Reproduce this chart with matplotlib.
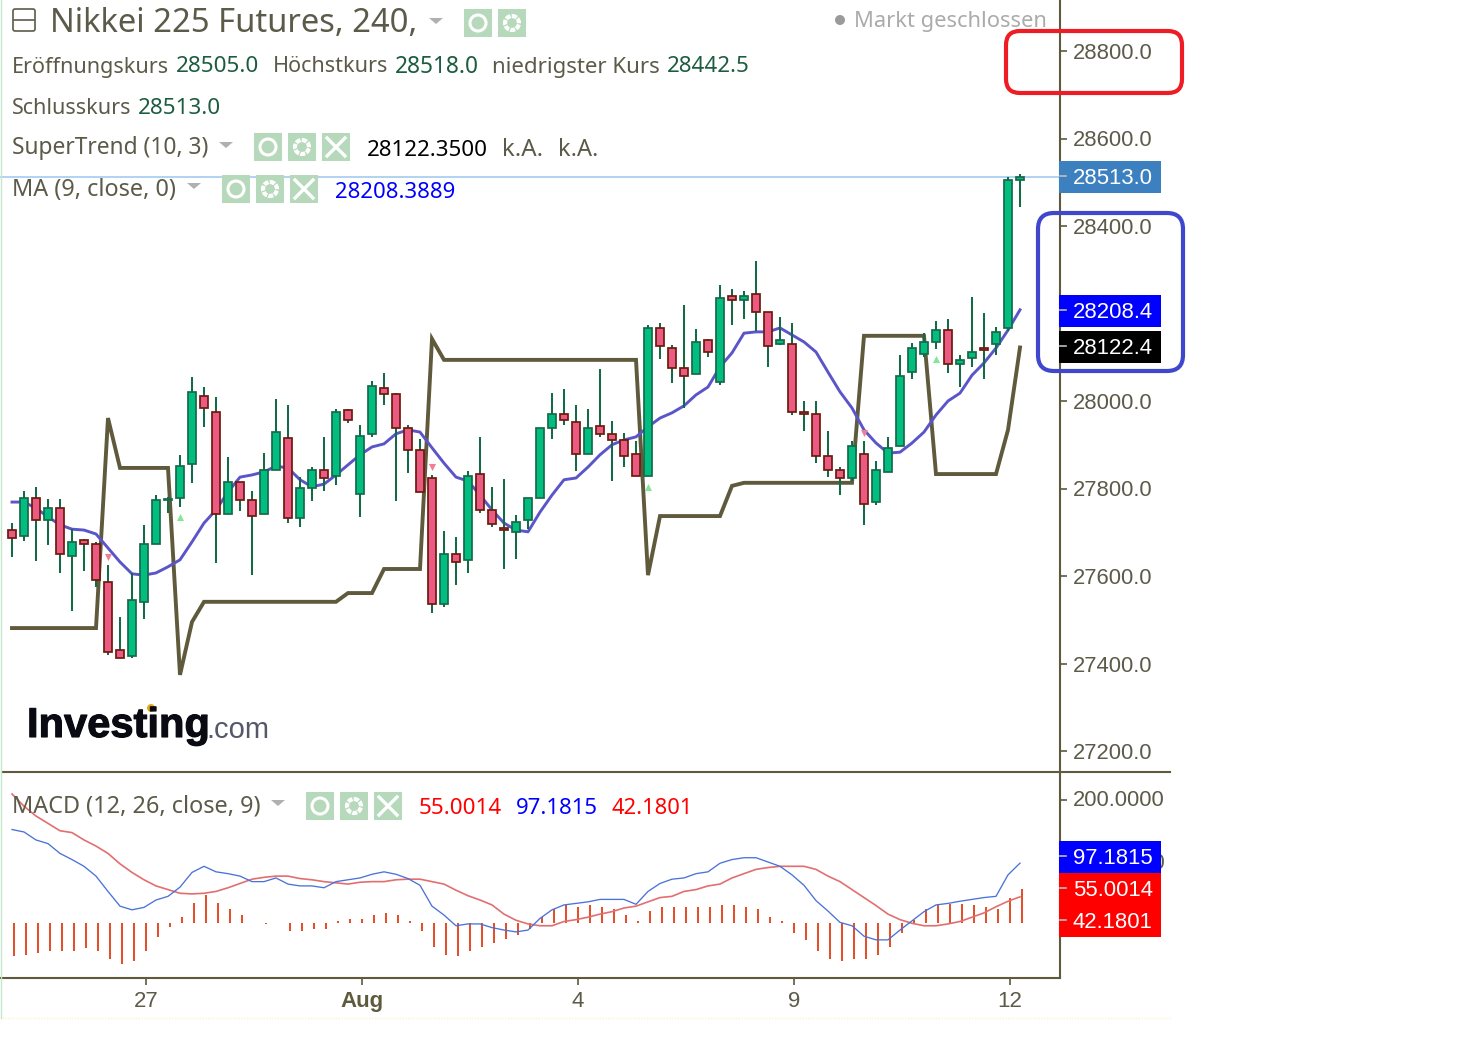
import matplotlib
matplotlib.use("Agg")
import matplotlib.pyplot as plt
import matplotlib.patheffects as pe
from matplotlib.patches import Rectangle, FancyBboxPatch, Circle, Polygon
import numpy as np

W, H = 1458, 1039

opens = [27705,27691,27778,27728,27755,27646,27682,27673,27586,27431,27417,27541,27673,27774,27778,27856,28011,27975,27742,27815,
         27774,27742,27842,27915,27733,27801,27842,27829,27979,27788,27925,28030,28016,27938,27888,27824,27536,27650,27637,27833,
         27751,27710,27701,27728,27778,27938,27970,27952,27879,27943,27925,27911,27879,27829,28167,28121,28075,28062,28139,28044,
         28240,28231,28245,28203,28130,28130,27975,27970,27874,27842,27824,27879,27769,27838,27897,28066,28107,28135,28162,28085,
         28098,28121,28130,28167,28505]
closes = [27687,27778,27728,27755,27650,27678,27673,27591,27426,27413,27545,27673,27774,27776,27851,28021,27984,27742,27815,27774,
          27737,27842,27929,27733,27801,27842,27824,27975,27957,27920,28034,28016,27938,27888,27792,27536,27650,27632,27829,27751,
          27719,27705,27723,27778,27938,27970,27957,27879,27938,27925,27911,27874,27829,28167,28126,28075,28057,28135,28112,28236,
          28231,28240,28203,28126,28139,27975,27970,27874,27842,27824,27897,27765,27842,27893,28057,28121,28135,28162,28085,28094,
          28112,28117,28158,28505,28513]
highs = [27721,27794,27804,27776,27776,27707,27685,27678,27625,27506,27607,27717,27785,27781,27877,28055,28032,28009,27872,27815,
         27794,27881,28005,27991,27826,27849,27918,27982,27982,27945,28046,28064,28018,27945,27913,27831,27703,27689,27840,27918,
         27804,27822,27739,27778,27938,28018,28028,27991,27982,28073,27954,27927,27909,28174,28178,28128,28220,28165,28142,28265,
         28256,28251,28320,28203,28192,28178,28000,28000,27931,27849,27909,27909,27863,27918,28105,28133,28156,28183,28187,28105,
         28238,28201,28169,28512,28518]
lows = [27644,27680,27634,27671,27607,27520,27611,27575,27420,27413,27413,27502,27673,27744,27758,27813,27941,27630,27742,27749,
        27602,27742,27842,27721,27712,27772,27794,27808,27950,27735,27918,27991,27772,27835,27792,27515,27529,27579,27607,27744,
        27712,27616,27639,27707,27778,27913,27945,27840,27879,27918,27817,27849,27829,27829,28096,28041,27984,28062,28101,28037,
        28174,28187,28160,28078,28128,27968,27931,27858,27826,27785,27817,27717,27762,27838,27897,28050,28101,28119,28064,28032,
        28078,28050,28105,28160,28442.5]
supertrend = [27481,27481,27481,27481,27481,27481,27481,27481,27961,27847,27847,27847,27847,27847,27374,27495,27541,27541,27541,27541,
              27541,27541,27541,27541,27541,27541,27541,27541,27561,27561,27561,27616,27616,27616,27616,28142,28094,28094,28094,28094,
              28094,28094,28094,28094,28094,28094,28094,28094,28094,28094,28094,28094,28094,27602,27737,27737,27737,27737,27737,27737,
              27806,27813,27813,27813,27813,27813,27813,27813,27813,27813,27813,28149,28149,28149,28149,28149,28149,27833,27833,27833,
              27833,27833,27833,27934,28122.35]
ma9 = [27769,27769,27755,27735,27717,27707,27705,27696,27664,27632,27605,27602,27607,27621,27637,27678,27721,27751,27792,27826,
       27831,27838,27851,27847,27820,27804,27810,27831,27854,27877,27895,27902,27925,27934,27929,27893,27858,27826,27817,27785,
       27751,27721,27705,27701,27746,27785,27820,27824,27849,27877,27900,27911,27918,27941,27961,27973,27989,28014,28032,28078,
       28110,28155,28158,28158,28167,28151,28135,28112,28066,28021,27984,27934,27904,27881,27883,27904,27929,27968,28000,28018,
       28059,28087,28121,28162,28208.3889]
hist = [-55,-52,-49,-46,-46,-46,-42,-46,-59,-68,-62,-46,-23,-6.5,9,32,45,32,22,13,
        0,-2,0,-13,-13,-10,-10,3,6,6,13,16,13,3,-13,-39,-52,-55,-46,-39,
        -33,-26,-20,-10,9,22,29,26,29,26,22,13,3,19,26,26,26,26,26,29,
        29,26,22,9,3,-16,-29,-46,-59,-62,-59,-59,-52,-39,-16,4,22,31,31,31,
        29,26,22,41,55.0014]
macd = [152,148,135,129,113,103,92,76,51,27,21,25,37,43,58,82,92,83,80,76,
        67,67,73,63,60,60,57,67,70,73,79,83,79,72,61,27,12.5,-5,-2,-2,
        -8,-12,-15,-12,7,21,29,31.5,34,38,38,38,30,51,64,71,73,80,83,97,
        103,106,106,99,92,78,61,36,19,0.5,-5,-22,-28,-28,-12,3,18,29,31.5,35,
        38,41,43,78,97.1815]
signal = [210,190,174,162,150,147,135,125,113,96,82,70,60,54,48,47,48,51,57,64,
          71,74,76,76,72,70,67,65,63,66,67,67,70,71,71,67,63,53,44,37,
          29,14,4,-2,-5,-5,2,5,9,14,18,24,27,34,41,43,51,54,60,63,
          73,80,87,90,92,92,92,87,76,67,54,41,28,14,5,-1,-5,-5,-2,2,
          9,16,26,35,42.1801]
buy_idx = [14, 53, 77]
buy_val = [27735, 27804, 28096]
sell_idx = [8, 35, 71]
sell_val = [27644, 27849, 27927]
price_ticks = [27200, 27400, 27600, 27800, 28000, 28400, 28600, 28800]
macd_ticks = [100, 200]
date_idx = [11, 29, 47, 65, 83]
date_labels = ["27", "Aug", "4", "9", "12"]

AXC = "#5f5a3c"; TXT = "#5c5a48"; VAL = "#1d5c40"
plt.rcParams["font.family"] = ["Noto Sans", "DejaVu Sans"]
fig = plt.figure(figsize=(W/100, H/100), dpi=100, facecolor="white")
def box(x0, y0, x1, y1):
    return [x0/W, 1-y1/H, (x1-x0)/W, (y1-y0)/H]

ax1 = fig.add_axes(box(0, 0, 1060, 771))
ax2 = fig.add_axes(box(0, 772, 1060, 978))
ov = fig.add_axes([0, 0, 1, 1], zorder=10)
ov.set_xlim(0, W); ov.set_ylim(H, 0); ov.axis("off"); ov.patch.set_alpha(0)

xs = np.arange(len(opens))
xlim = (-1, (1060-12)/12)
ax1.set_xlim(*xlim)
ax1.set_ylim(28800-(771-51)/0.4375, 28800+51/0.4375)

ax1.plot(xs, supertrend, color="#5f5a3c", lw=2.8, solid_joinstyle="miter", zorder=2)
ax1.plot(xs, ma9, color="#5a55c8", lw=2.1, zorder=2.2)
ax1.axhline(closes[-1], color="#9cc6f0", lw=1.1, zorder=1)
ax1.scatter(buy_idx, buy_val, marker="^", s=26, color="#86e596", zorder=3, linewidths=0)
ax1.scatter(sell_idx, sell_val, marker="v", s=26, color="#ee7f95", zorder=3, linewidths=0)
ax1.vlines(xs, lows, highs, color="#136a47", lw=1.45, zorder=3)
up = np.array(closes) >= np.array(opens)
for x, o, c, u in zip(xs, opens, closes, up):
    ax1.bar(x, abs(c-o), bottom=min(o, c), width=8.8/12,
            color="#00bd80" if u else "#ea5a83",
            edgecolor="#17694a" if u else "#6d1a0c", linewidth=1.25, zorder=4)
ax1.set_yticks(price_ticks)
ax1.set_yticklabels([f"{t:.1f}" for t in price_ticks])
ax1.set_xticks([])
ax1.yaxis.tick_right()
ax1.tick_params(axis="y", length=5, width=1.2, color=AXC, pad=4.5, labelcolor=TXT, labelsize=15.8)
for lab in ax1.get_yticklabels():
    lab.set_family("Liberation Sans")
for s in ["left", "top", "bottom"]:
    ax1.spines[s].set_visible(False)
ax1.spines["right"].set_color(AXC); ax1.spines["right"].set_linewidth(1.5)

ax2.set_xlim(*xlim)
ax2.set_ylim((922.7-978)/0.613, (922.7-772)/0.613)
ax2.vlines(xs+1/6, 0, hist, color="#e2502c", lw=1.45, zorder=2)
ax2.plot(xs, signal, color="#e26f70", lw=1.2, zorder=3)
ax2.plot(xs, macd, color="#4a72d8", lw=0.95, zorder=3)
ax2.set_yticks(macd_ticks)
ax2.set_yticklabels([f"{t:.4f}" for t in macd_ticks])
ax2.yaxis.tick_right()
ax2.set_xticks(np.array(date_idx)+1/6)
ax2.set_xticklabels(date_labels)
ax2.tick_params(axis="y", length=5, width=1.2, color=AXC, pad=4.5, labelcolor=TXT, labelsize=15.8)
ax2.tick_params(axis="x", length=5, width=1.2, color=AXC, pad=4.5, labelcolor=TXT, labelsize=16)
for lab in ax2.get_yticklabels() + ax2.get_xticklabels():
    lab.set_family("Liberation Sans")
    lab.set_y(lab.get_position()[1])
ax2.get_yticklabels()[1].set_va("center")
ax2.get_xticklabels()[1].set_fontweight("bold")
ax2.get_xticklabels()[1].set_color(AXC)
ax2.spines["left"].set_visible(False)
ax2.spines["top"].set_visible(False)
for s in ["right", "bottom"]:
    ax2.spines[s].set_color(AXC); ax2.spines[s].set_linewidth(1.5)

# chrome
ov.plot([2, 1170], [772, 772], color=AXC, lw=1.5)
ov.plot([1, 1], [0, 1018], color="#c5e8cc", lw=1.0)
ov.plot([2, 1170], [1018, 1018], color="#fdf0cf", lw=1.0, ls=(0, (1, 1)))

def tag(y0, y1, col, s, tick_y):
    ov.add_patch(Rectangle((1059, y0), 102, y1-y0, color=col, lw=0, zorder=3))
    ov.plot([1060, 1066], [tick_y, tick_y], color="#bdbdbd", lw=1.2, zorder=4)
    ov.text(1073, (y0+y1)/2+1, s, color="white", fontsize=15.9, family="Liberation Sans",
            va="center", ha="left", zorder=5)
tag(161, 193, "#3c80c0", f"{closes[-1]:.1f}", 176)
tag(295, 327, "#0000ff", f"{ma9[-1]:.1f}", 310)
tag(331, 363, "#000000", f"{supertrend[-1]+0.001:.1f}", 346)
tag(841, 873, "#0000ff", f"{macd[-1]:.4f}", 856)
tag(873, 905, "#ff0000", f"{hist[-1]:.4f}", 888)
tag(905, 937, "#ff0000", f"{signal[-1]:.4f}", 920)

def rbox(x0, y0, x1, y1, col, lw, r):
    ov.add_patch(FancyBboxPatch((x0+r, y0+r), x1-x0-2*r, y1-y0-2*r,
                 boxstyle=f"round,pad={r},rounding_size={r}", fc="none", ec=col, lw=lw, zorder=6))
rbox(1006, 31, 1182, 93, "#ee1c25", 3.0, 14)
rbox(1038, 213, 1183, 371, "#3f48cc", 3.0, 16)

renderer = fig.canvas.get_renderer()
def t(x0, x1, y, s, c=TXT, fs=16.2):
    txt = ov.text(x0, y, s, color=c, fontsize=fs, va="center", ha="left")
    txt.set_fontsize(fs*(x1-x0)/txt.get_window_extent(renderer).width)
t(50, 418, 23, "Nikkei 225 Futures, 240,", fs=23.5)
t(12, 168, 67, "Eröffnungskurs"); t(176, 259, 67, f"{opens[-1]:.1f}", VAL)
t(273, 388, 67, "Höchstkurs"); t(395, 479, 67, f"{highs[-1]:.1f}", VAL)
t(492, 660, 67, "niedrigster Kurs"); t(667, 750, 67, f"{lows[-1]:.1f}", VAL)
t(12, 131, 108, "Schlusskurs"); t(138, 221, 108, f"{closes[-1]:.1f}", VAL)
t(12, 209, 148, "SuperTrend (10, 3)")
t(367, 488, 150, f"{supertrend[-1]:.4f}", "#000000"); t(502, 543, 150, "k.A."); t(558, 598, 150, "k.A.")
t(12, 176, 190, "MA (9, close, 0)"); t(335, 455, 192, f"{ma9[-1]:.4f}", "#0000ff")
t(12, 261, 807, "MACD (12, 26, close, 9)")
t(419, 502, 809, f"{hist[-1]:.4f}", "#ff0000")
t(516, 598, 809, f"{macd[-1]:.4f}", "#0000ff")
t(612, 693, 809, f"{signal[-1]:.4f}", "#ff0000")
t(854, 1047, 22, "Markt geschlossen", "#ababab")
ov.add_patch(Circle((840, 20), 5, color="#9a9a9a", lw=0))
ov.add_patch(FancyBboxPatch((13, 9), 22, 22, boxstyle="round,pad=0,rounding_size=2", fc="none", ec=TXT, lw=1.2))
ov.plot([14, 34], [20, 20], color=TXT, lw=1.2)

for cx, cy in [(436, 20), (226, 144), (194, 185), (278, 802)]:
    ov.add_patch(Polygon([(cx-7, cy-2), (cx+7, cy-2), (cx, cy+4)], color="#b0b0b0", lw=0))

def icons(x, y, kinds):
    for i, k in enumerate(kinds):
        x0 = x+34*i
        ov.add_patch(Rectangle((x0, y), 28, 28, color="#b7d9bb", lw=0))
        cx, cy = x0+14, y+14
        if k == "eye":
            ov.add_patch(Circle((cx, cy), 8, fc="#b7d9bb", ec="white", lw=2.2))
            ov.add_patch(Circle((cx, cy), 2.5, color="#b7d9bb", lw=0))
        elif k == "gear":
            ov.add_patch(Circle((cx, cy), 7, fc="#b7d9bb", ec="white", lw=3, ls=(0, (1.2, 0.3))))
        else:
            ov.plot([cx-9, cx+9], [cy-9, cy+9], color="white", lw=2.4)
            ov.plot([cx-9, cx+9], [cy+9, cy-9], color="white", lw=2.4)
icons(464, 9, ["eye", "gear"])
icons(254, 133, ["eye", "gear", "x"])
icons(222, 175, ["eye", "gear", "x"])
icons(306, 792, ["eye", "gear", "x"])

logo = ov.text(27, 726, "Investing", color="#0a0a12", fontsize=30, fontweight="bold",
               family="Liberation Sans", va="center", ha="left")
logo.set_path_effects([pe.withStroke(linewidth=0.8, foreground="#0a0a12")])
ov.text(206, 730, ".com", color="#55586a", fontsize=21, family="Liberation Sans", va="center", ha="left")
ov.add_patch(Circle((151, 708), 4, color="#e3ad1e", lw=0))

fig.savefig("out.png", dpi=100, facecolor="white")
